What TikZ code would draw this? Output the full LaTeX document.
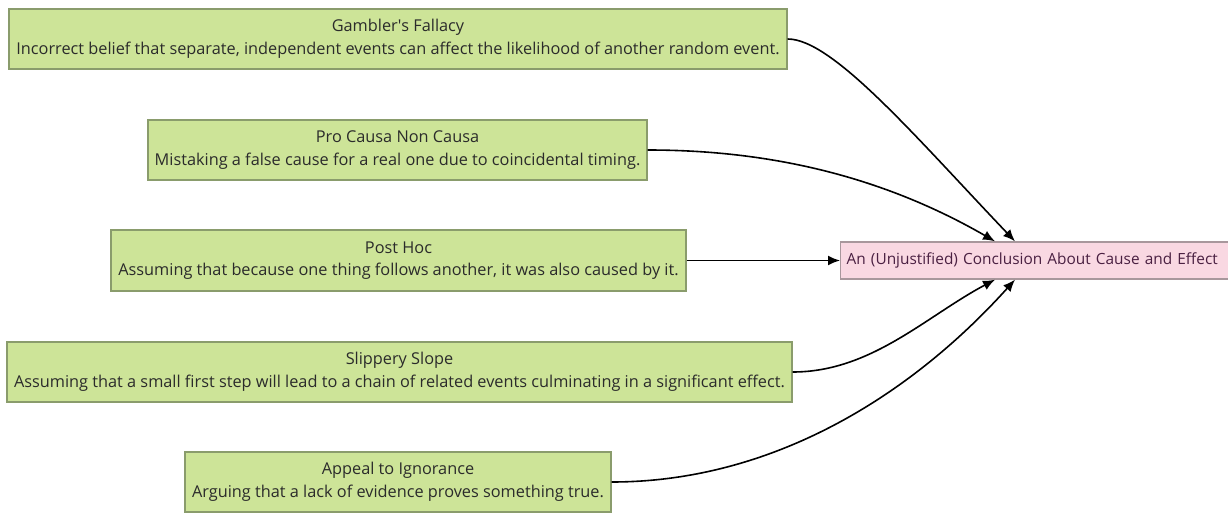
\documentclass[tikz,border=0pt]{standalone}
\usepackage{fontspec}
\setmainfont{Open Sans}
\usetikzlibrary{arrows.meta,calc}
\definecolor{causefill}{HTML}{CDE498}
\definecolor{causeline}{HTML}{8A9C6C}
\definecolor{effectfill}{HTML}{F9D8E2}
\definecolor{effectline}{HTML}{A8979C}
\definecolor{effecttext}{HTML}{4A2042}
\definecolor{bodytext}{HTML}{2B2B2B}
\tikzset{
  cause/.style={draw=causeline, fill=causefill, line width=1.3pt, align=center,
    text=bodytext, font=\fontsize{16.3}{22.5}\selectfont, inner sep=0pt},
  effect/.style={draw=effectline, fill=effectfill, line width=1.3pt, anchor=west,
    text=effecttext, font=\fontsize{15.4}{18}\selectfont, inner sep=0pt,
    minimum height=37pt, minimum width=440pt, text width=424pt, align=left},
  link/.style={draw=black, line width=1.6pt, -{Latex[length=12pt,width=10pt]}}
}
\begin{document}
\begin{tikzpicture}[x=1pt,y=-1pt]
  \useasboundingbox (0,0) rectangle (1228,513);
  \clip (0,0) rectangle (1228,513);

  % causes on the left
  \node[cause, minimum width=778pt, minimum height=60pt] (gambler) at (398,39)
    {Gambler\textquotesingle s Fallacy\\Incorrect belief that separate, independent events can affect the likelihood of another random event.};
  \node[cause, minimum width=499pt, minimum height=60pt] (procausa) at (397.5,150)
    {Pro Causa Non Causa\\Mistaking a false cause for a real one due to coincidental timing.};
  \node[cause, minimum width=575pt, minimum height=61pt] (posthoc) at (398.5,260.5)
    {Post Hoc\\Assuming that because one thing follows another, it was also caused by it.};
  \node[cause, minimum width=785pt, minimum height=60pt] (slippery) at (399.5,372)
    {Slippery Slope\\Assuming that a small first step will lead to a chain of related events culminating in a significant effect.};
  \node[cause, minimum width=426pt, minimum height=60pt] (ignorance) at (398,482)
    {Appeal to Ignorance\\Arguing that a lack of evidence proves something true.};

  % the conclusion on the right, running off the edge
  \node[effect] (concl) at (840,260.5)
    {\hspace*{-2pt}An (Unjustified) Conclusion About Cause and Effect};

  % arrow targets along the conclusion box
  \coordinate (topA) at ($(concl.north west)+(155,0)$);
  \coordinate (topB) at ($(concl.north west)+(175,0)$);
  \coordinate (botA) at ($(concl.south west)+(155,0)$);
  \coordinate (botB) at ($(concl.south west)+(175,0)$);

  \draw[link] (gambler.east) .. controls +(45,0) and +(-100,-105) .. (topB);
  \draw[link] (procausa.east) to[out=0, in=150, looseness=0.9] (topA);
  \draw[link] (posthoc.east) -- (concl.west);
  \draw[link] (slippery.east) to[out=0, in=208, looseness=0.9] (botA);
  \draw[link] (ignorance.east) to[out=0, in=228, looseness=0.9] (botB);
\end{tikzpicture}
\end{document}
